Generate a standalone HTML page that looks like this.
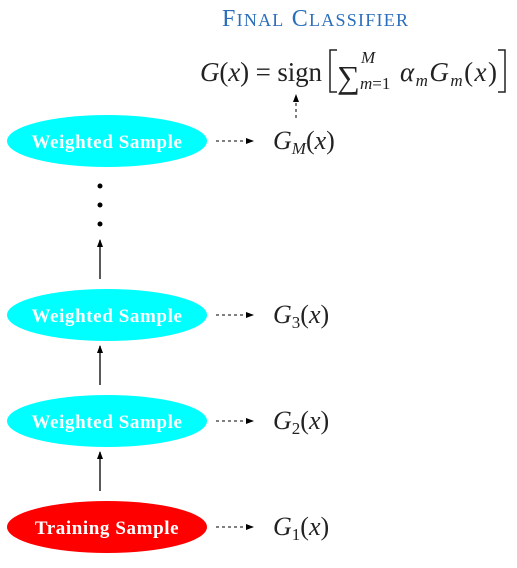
<!DOCTYPE html>
<html><head><meta charset="utf-8"><style>
html,body{margin:0;padding:0;background:#fff;}
svg{display:block;}
.lbl{font-family:"Liberation Serif",serif;font-style:italic;font-size:26px;fill:#222;}
.up{font-style:normal;}
.el{font-family:"Liberation Serif",serif;font-weight:bold;font-size:19px;fill:#fff;letter-spacing:0.6px;}
</style></head><body>
<svg width="517" height="568" viewBox="0 0 517 568">
<defs>
<marker id="ah" markerWidth="8" markerHeight="6" refX="7" refY="3" orient="auto" markerUnits="userSpaceOnUse"><path d="M0,0 L8,3 L0,6 Z" fill="#000"/></marker>
</defs>
<text x="222" y="26" fill="#2a6ebb" font-family="Liberation Serif,serif" font-size="24" textLength="186">F<tspan font-size="18">INAL</tspan> C<tspan font-size="18">LASSIFIER</tspan></text>
<g font-family="Liberation Serif,serif" font-size="27" fill="#222">
<text x="200" y="81" textLength="122"><tspan font-style="italic">G</tspan>(<tspan font-style="italic">x</tspan>) = sign</text>
<path d="M337,50 L330,50 L330,92 L337,92" fill="none" stroke="#222" stroke-width="1.5"/>
<text x="337" y="88" font-size="32">∑</text>
<text x="361" y="63" font-size="17" font-style="italic">M</text>
<text x="360" y="89" font-size="17"><tspan font-style="italic">m</tspan>=1</text>
<text x="400" y="81" textLength="97"><tspan font-style="italic">α</tspan><tspan font-size="17" font-style="italic" dy="5">m</tspan><tspan font-style="italic" dy="-5">G</tspan><tspan font-size="17" font-style="italic" dy="5">m</tspan><tspan dy="-5">(</tspan><tspan font-style="italic">x</tspan>)</text>
<path d="M498,50 L505,50 L505,92 L498,92" fill="none" stroke="#222" stroke-width="1.5"/>
</g>
<line x1="296" y1="118" x2="296" y2="95" stroke="#000" stroke-dasharray="3,3" marker-end="url(#ah)"/>

<ellipse cx="107" cy="141" rx="100" ry="26" fill="#00ffff"/>
<text x="107" y="148" text-anchor="middle" class="el">Weighted  Sample</text>
<ellipse cx="107" cy="315" rx="100" ry="26" fill="#00ffff"/>
<text x="107" y="322" text-anchor="middle" class="el">Weighted  Sample</text>
<ellipse cx="107" cy="421" rx="100" ry="26" fill="#00ffff"/>
<text x="107" y="428" text-anchor="middle" class="el">Weighted  Sample</text>
<ellipse cx="107" cy="527" rx="100" ry="26" fill="#ff0000"/>
<text x="107" y="534" text-anchor="middle" class="el">Training  Sample</text>

<g stroke="#000" stroke-width="1.3">
<line x1="100" y1="491" x2="100" y2="452" marker-end="url(#ah)"/>
<line x1="100" y1="385" x2="100" y2="346" marker-end="url(#ah)"/>
<line x1="100" y1="279" x2="100" y2="240" marker-end="url(#ah)"/>
</g>
<g fill="#000">
<circle cx="100" cy="186" r="2.5"/><circle cx="100" cy="205" r="2.5"/><circle cx="100" cy="224" r="2.5"/>
</g>
<g stroke="#000" stroke-dasharray="3,3">
<line x1="216" y1="141" x2="253" y2="141" marker-end="url(#ah)"/>
<line x1="216" y1="315" x2="253" y2="315" marker-end="url(#ah)"/>
<line x1="216" y1="421" x2="253" y2="421" marker-end="url(#ah)"/>
<line x1="216" y1="527" x2="253" y2="527" marker-end="url(#ah)"/>
</g>
<text x="273" y="149" class="lbl">G<tspan font-size="17" dy="5">M</tspan><tspan class="up" dy="-5">(</tspan>x<tspan class="up">)</tspan></text>
<text x="273" y="323" class="lbl">G<tspan class="up" font-size="17" dy="5">3</tspan><tspan class="up" dy="-5">(</tspan>x<tspan class="up">)</tspan></text>
<text x="273" y="429" class="lbl">G<tspan class="up" font-size="17" dy="5">2</tspan><tspan class="up" dy="-5">(</tspan>x<tspan class="up">)</tspan></text>
<text x="273" y="535" class="lbl">G<tspan class="up" font-size="17" dy="5">1</tspan><tspan class="up" dy="-5">(</tspan>x<tspan class="up">)</tspan></text>
</svg>
</body></html>
